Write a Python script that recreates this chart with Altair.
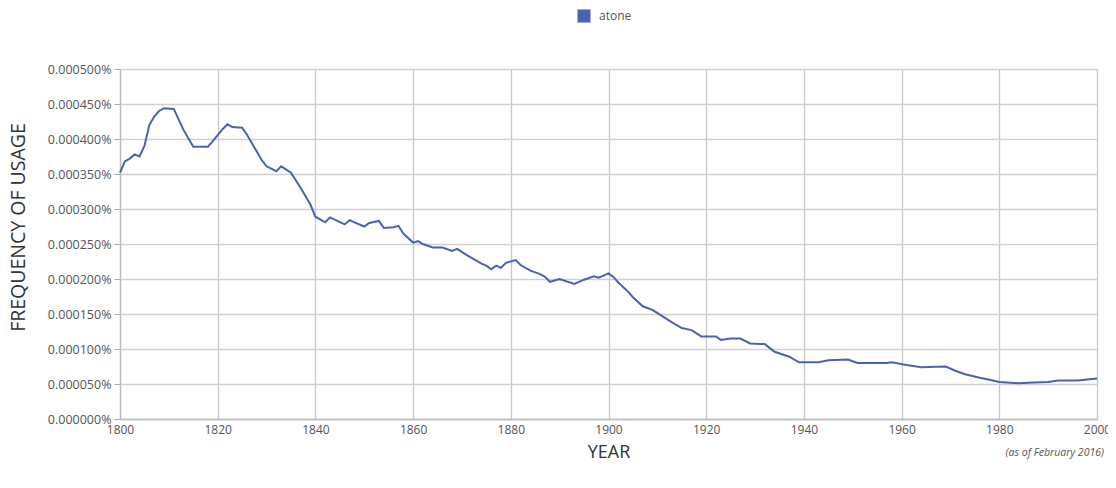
import altair as alt
import pandas as pd

years = [1800, 1801, 1802, 1803, 1804, 1805, 1806, 1807, 1808, 1809, 1811, 1813, 1815, 1818, 1819, 1821,
         1822, 1823, 1825, 1826, 1829, 1830, 1832, 1833, 1835, 1837, 1839, 1840, 1842, 1843, 1846, 1847,
         1848, 1850, 1851, 1853, 1854, 1856, 1857, 1858, 1860, 1861, 1862, 1864, 1866, 1868, 1869, 1871,
         1874, 1875, 1876, 1877, 1878, 1879, 1881, 1882, 1884, 1886, 1887, 1888, 1890, 1893, 1895, 1897,
         1898, 1900, 1901, 1902, 1904, 1905, 1907, 1909, 1911, 1913, 1915, 1917, 1919, 1922, 1923, 1925,
         1927, 1929, 1931, 1932, 1934, 1937, 1939, 1943, 1945, 1949, 1951, 1957, 1958, 1961, 1964, 1969,
         1971, 1973, 1976, 1978, 1980, 1984, 1987, 1990, 1992, 1996, 2000]
values = [0.000352, 0.000368, 0.000372, 0.000378, 0.000375, 0.000390, 0.000420, 0.000432, 0.000440, 0.000444,
          0.000443, 0.000413, 0.000389, 0.000389, 0.000397, 0.000414, 0.000421, 0.000417, 0.000416, 0.000406,
          0.000370, 0.000361, 0.000354, 0.000361, 0.000352, 0.000330, 0.000306, 0.000289, 0.000281, 0.000288,
          0.000278, 0.000284, 0.000281, 0.000275, 0.000280, 0.000283, 0.000273, 0.000274, 0.000276, 0.000265,
          0.000252, 0.000254, 0.000250, 0.000245, 0.000245, 0.000240, 0.000243, 0.000234, 0.000222, 0.000219,
          0.000214, 0.000219, 0.000216, 0.000223, 0.000227, 0.000220, 0.000212, 0.000207, 0.000203, 0.000196,
          0.000200, 0.000193, 0.000199, 0.000204, 0.000202, 0.000208, 0.000203, 0.000195, 0.000182, 0.000174,
          0.000161, 0.000156, 0.000147, 0.000138, 0.000130, 0.000127, 0.000118, 0.000118, 0.000113, 0.000115,
          0.000115, 0.000108, 0.000107, 0.000107, 0.000096, 0.000089, 0.000081, 0.000081, 0.000084, 0.000085,
          0.000080, 0.000080, 0.000081, 0.000077, 0.000074, 0.000075, 0.000069, 0.000064, 0.000059, 0.000056,
          0.000053, 0.000051, 0.000052, 0.000053, 0.000055, 0.000055, 0.000058]
series_name = "atone"
y_ticks = [0, 0.00005, 0.0001, 0.00015, 0.0002, 0.00025, 0.0003, 0.00035, 0.0004, 0.00045, 0.0005]
x_ticks = [1800, 1820, 1840, 1860, 1880, 1900, 1920, 1940, 1960, 1980, 2000]
note_text = "(as of February 2016)"

df = pd.DataFrame({"year": years, "value": values, "word": series_name})

FONT = "Open Sans"
LINE_COLOR = "#4a62b5"

line = alt.Chart(df).mark_line(strokeWidth=2, color=LINE_COLOR).encode(
    x=alt.X("year:Q",
            scale=alt.Scale(domain=[1800, 2000], nice=False),
            axis=alt.Axis(values=x_ticks, format="d", title="YEAR", labelFont=FONT, labelFontSize=12,
                          labelColor="#555555", titleFont=FONT, titleFontSize=18, titleFontWeight="normal",
                          titleColor="#333333", titlePadding=8, ticks=False, labelPadding=5,
                          domainColor="#bbbbbb", gridColor="#c8c8c8", gridWidth=1.3, labelFlush=False)),
    y=alt.Y("value:Q",
            scale=alt.Scale(domain=[0, 0.0005], nice=False),
            axis=alt.Axis(values=y_ticks, labelExpr="format(datum.value, '.6f') + '%'",
                          title="FREQUENCY OF USAGE", labelFont=FONT, labelFontSize=12.5,
                          labelColor="#555555", titleFont=FONT, titleFontSize=19.5, titleFontWeight="normal",
                          titleColor="#333333", titleX=-92, titleY=158, tickSize=6, tickColor="#aaaaaa",
                          labelPadding=3, domainColor="#bbbbbb", gridColor="#d0d0d0", gridWidth=1.3)),
    color=alt.Color("word:N",
                    scale=alt.Scale(range=[LINE_COLOR]),
                    legend=alt.Legend(title=None, orient="none", legendX=457, legendY=-60,
                                      symbolType="square", symbolSize=170, symbolFillColor=LINE_COLOR,
                                      symbolStrokeWidth=0, labelFont=FONT, labelFontSize=12,
                                      labelColor="#555555", labelOffset=8)),
)

note = alt.Chart(pd.DataFrame({"t": [note_text]})).mark_text(
    font=FONT, fontSize=10.5, fontStyle="italic", color="#555555", align="right", baseline="middle"
).encode(text="t:N", x=alt.value(984), y=alt.value(384))

chart = alt.layer(line, note).properties(
    width=977, height=350,
    autosize=alt.AutoSizeParams(type="none"),
    padding={"left": 112, "top": 61, "right": 11, "bottom": 60},
).configure_view(stroke=None).configure_axis(domainWidth=1.3)

chart.save("out.html", embed_options={"renderer": "svg", "actions": False})
